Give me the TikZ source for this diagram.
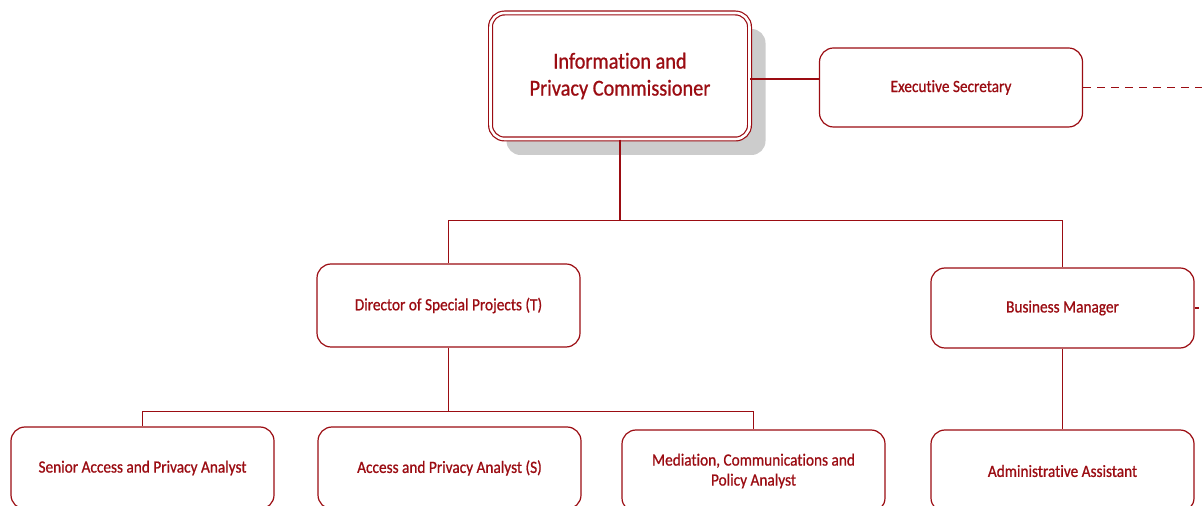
\documentclass[tikz,border=0pt]{standalone}
\usepackage{fontspec}
\setmainfont{Carlito}[FakeStretch=0.89, FakeBold=0.8, Ligatures=NoCommon]
\usetikzlibrary{shadows}

\definecolor{orgred}{RGB}{155,12,18}

\begin{document}
\begin{tikzpicture} [x=0.5pt, y=-0.5pt,
            box/.style = {draw=orgred, line width=0.6pt, fill=white,
                rounded corners=7pt, text=orgred, align=center,
                minimum width=131.5pt, font=\fontsize{8.6}{10}\selectfont},
            link/.style = {draw=orgred, line width=0.8pt}]

        \useasboundingbox (0,0) rectangle (1202,506);
        \clip (0,0) rectangle (1202,506);

        % Commissioner
        \node (ipc) [box,
            double=white, double distance=1.3pt,
            minimum width=129.5pt, minimum height=63pt,
            font=\fontsize{11.4}{13.5}\selectfont,
            drop shadow={shadow xshift=8pt, shadow yshift=-8pt,
                fill=black!20, opacity=1}]
            at (620,76) {Information and\\Privacy Commissioner};

        % Executive Secretary
        \node (es) [box, minimum height=39.5pt]
            at (951,87.5) {Executive Secretary};

        % Director
        \node (dsp) [box, minimum height=41.5pt]
            at (448.5,305.5) {Director of Special Projects (T)};

        % Business Manager
        \node (bm) [box, minimum height=40pt]
            at (1062.5,308) {Business Manager};

        % Analysts
        \node (sapa) [box, minimum height=41pt]
            at (142.5,468) {Senior Access and Privacy Analyst};
        \node (apa) [box, minimum height=41pt]
            at (449.5,468) {Access and Privacy Analyst (S)};
        \node (mcpa) [box, minimum height=41pt]
            at (753.5,471) {Mediation, Communications and\\Policy Analyst};

        % Administrative Assistant
        \node (aa) [box, minimum height=41pt]
            at (1062.5,471) {Administrative Assistant};

        \coordinate (off) at (1202,87.5);

        % Lines
        \draw [link] ([yshift=-1.5pt]ipc.east) -- ([yshift=-1.5pt]ipc.east -| es.west);
        \draw [link, dash pattern=on 4pt off 3pt] (es.east) -- (off);
        \draw [link] (ipc.south) -- ++(0,81) coordinate (bus1) -| (dsp.north);
        \draw [link] (bus1) -| (bm.north);
        \draw [link] (dsp.south) -- ++(0,64) coordinate (bus2) -| (sapa.north);
        \draw [link] (bus2) -| (mcpa.north);
        \draw [link] (bm.south) -- (aa.north);
        \draw [link] (bm.east) -- ++(4,0);
\end{tikzpicture}
\end{document}
